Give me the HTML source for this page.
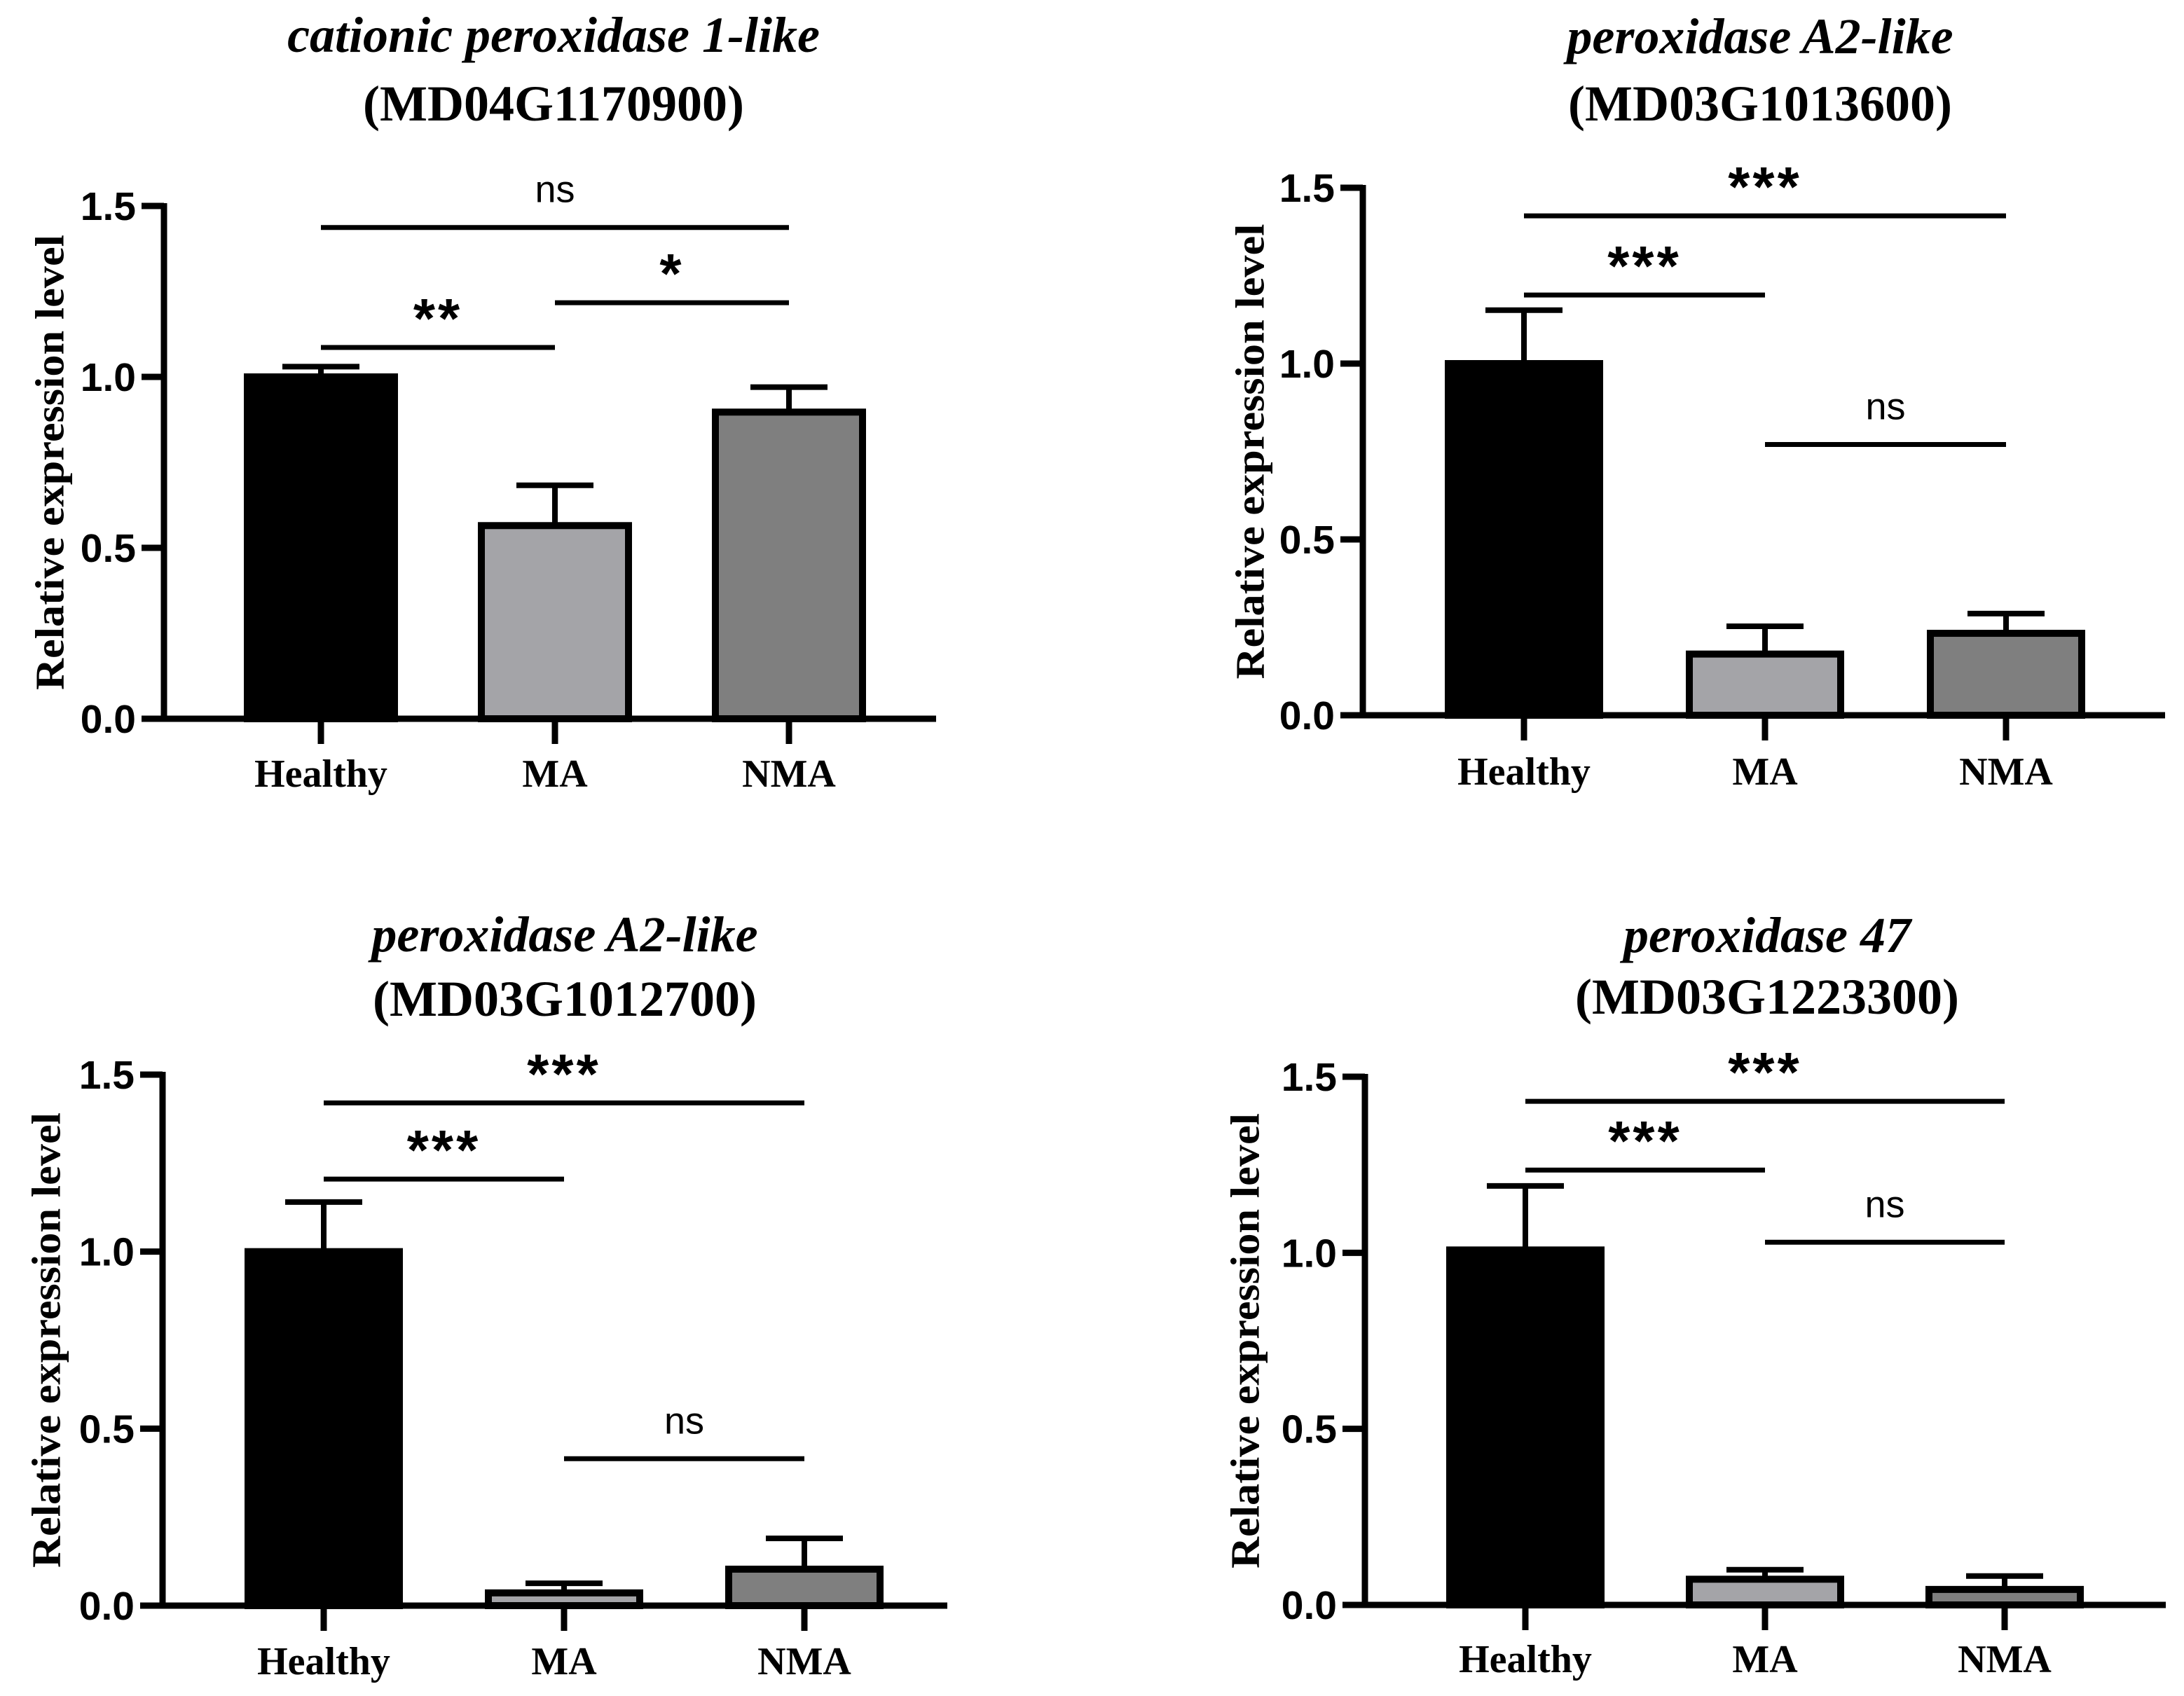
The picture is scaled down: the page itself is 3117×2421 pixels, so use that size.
<!DOCTYPE html>
<html><head><meta charset="utf-8"><style>
html,body{margin:0;padding:0;background:#fff;}
svg{display:block;}
</style></head><body>
<svg id="fig" xmlns="http://www.w3.org/2000/svg" width="3117" height="2421" viewBox="0 0 3117 2421"></svg>
<script>
const categories = ["Healthy", "MA", "NMA"];
const titlesItalic = ["cationic peroxidase 1-like", "peroxidase A2-like", "peroxidase A2-like", "peroxidase 47"];
const titlesId = ["(MD04G1170900)", "(MD03G1013600)", "(MD03G1012700)", "(MD03G1223300)"];
const meansP1 = [1.0, 0.565, 0.897];
const errsP1 = [0.03, 0.118, 0.073];
const meansP2 = [1.0, 0.174, 0.233];
const errsP2 = [0.152, 0.079, 0.056];
const meansP3 = [1.0, 0.036, 0.103];
const errsP3 = [0.14, 0.027, 0.087];
const meansP4 = [1.008, 0.073, 0.044];
const errsP4 = [0.182, 0.027, 0.038];
const yTicks = [0.0, 0.5, 1.0, 1.5];
const yTickLabels = ["0.0", "0.5", "1.0", "1.5"];
const sigP1 = [["ns", 0, 2, 1.437], ["**", 0, 1, 1.086], ["*", 1, 2, 1.217]];
const sigP2 = [["***", 0, 2, 1.42], ["***", 0, 1, 1.195], ["ns", 1, 2, 0.77]];
const sigP3 = [["***", 0, 2, 1.42], ["***", 0, 1, 1.205], ["ns", 1, 2, 0.415]];
const sigP4 = [["***", 0, 2, 1.43], ["***", 0, 1, 1.235], ["ns", 1, 2, 1.03]];
const fills = ["#000000", "#a4a4a8", "#7f7f7f"];

const layouts = [
  {ax:234, y0:1026, y15:294, c0:458, step:334, bw:220, xend:1336, t1:74, t2:172, tc:790, ylx:71, xl:1123},
  {ax:1945, y0:1021, y15:268, c0:2175, step:344, bw:226, xend:3090, t1:76, t2:172, tc:2512, ylx:1784, xl:1120},
  {ax:232, y0:2292, y15:1534, c0:462, step:343, bw:226, xend:1352, t1:1358, t2:1450, tc:806, ylx:66, xl:2390},
  {ax:1948, y0:2291, y15:1537, c0:2177, step:342, bw:226, xend:3091, t1:1359, t2:1447, tc:2522, ylx:1777, xl:2387}
];
const meansAll = [meansP1, meansP2, meansP3, meansP4];
const errsAll = [errsP1, errsP2, errsP3, errsP4];
const sigAll = [sigP1, sigP2, sigP3, sigP4];

const NS = "http://www.w3.org/2000/svg";
const svg = document.getElementById("fig");
function mk(tag, attrs, parent, text) {
  const e = document.createElementNS(NS, tag);
  for (const k in attrs) e.setAttribute(k, attrs[k]);
  if (text !== undefined) e.textContent = text;
  parent.appendChild(e);
  return e;
}

layouts.forEach((L, p) => {
  const g = mk("g", {}, svg);
  
  
  const yS = v => L.y0 - v * (L.y0 - L.y15) / 1.5;
  const xS = i => L.c0 + i * L.step;

  const t1 = mk("text", {x:L.tc, y:L.t1, "text-anchor":"middle", "font-family":"Liberation Serif, serif", "font-weight":"bold", "font-style":"italic", "font-size":72}, g, titlesItalic[p]);
  
  
  const t2 = mk("text", {x:L.tc, y:L.t2, "text-anchor":"middle", "font-family":"Liberation Serif, serif", "font-weight":"bold", "font-size":72}, g, titlesId[p]);
  
  

  const ymid = (L.y0 + L.y15) / 2;
  const yl = mk("text", {x:L.ylx, y:ymid, transform:`rotate(-90 ${L.ylx} ${ymid})`, "text-anchor":"middle", "dominant-baseline":"central", "font-family":"Liberation Serif, serif", "font-weight":"bold", "font-size":58, textLength:650, lengthAdjust:"spacingAndGlyphs"}, g, "Relative expression level");
  
  

  meansAll[p].forEach((v, i) => {
    const cx = xS(i), top = yS(v), e = yS(v + errsAll[p][i]);
    const eb = mk("path", {d:`M${cx} ${top} V${e} M${cx-55} ${e} H${cx+55}`, stroke:"#000", "stroke-width":8, fill:"none"}, g);
    
    
    const r = mk("rect", {x:cx - L.bw/2 + 5, y:top, width:L.bw - 10, height:Math.max(L.y0 - top, 0), fill:fills[i], stroke:"#000", "stroke-width":10}, g);
    
    
  });

  const ya = mk("path", {d:`M${L.ax} ${L.y15-4} V${L.y0+4}`, stroke:"#000", "stroke-width":9, fill:"none"}, g);
  
  
  const xa = mk("path", {d:`M${L.ax-4} ${L.y0} H${L.xend}`, stroke:"#000", "stroke-width":9, fill:"none"}, g);
  
  
  yTicks.forEach((v, i) => {
    const y = yS(v);
    const tk = mk("path", {d:`M${L.ax-32} ${y} H${L.ax}`, stroke:"#000", "stroke-width":9}, g);
    
    
    const tl = mk("text", {x:L.ax-40, y:y+20, "text-anchor":"end", "font-family":"Liberation Sans, sans-serif", "font-weight":"bold", "font-size":57}, g, yTickLabels[i]);
    
    
  });
  categories.forEach((c, i) => {
    const x = xS(i);
    const tk = mk("path", {d:`M${x} ${L.y0} V${L.y0+36}`, stroke:"#000", "stroke-width":9}, g);
    
    
    const tl = mk("text", {x:x, y:L.xl, "text-anchor":"middle", "font-family":"Liberation Serif, serif", "font-weight":"bold", "font-size":56}, g, c);
    
    
  });

  sigAll[p].forEach(s => {
    const [lab, a, b, lvl] = s;
    const y = yS(lvl), x1 = xS(a), x2 = xS(b), xm = (x1 + x2) / 2;
    const ln = mk("path", {d:`M${x1} ${y} H${x2}`, stroke:"#000", "stroke-width":7}, g);
    
    
    let tx;
    if (lab === "ns") {
      tx = mk("text", {x:xm, y:y - 36, "text-anchor":"middle", "font-family":"Liberation Sans, sans-serif", "font-size":54}, g, lab);
    } else {
      tx = mk("text", {x:xm, y:y - 14, "text-anchor":"middle", "font-family":"Liberation Sans, sans-serif", "font-weight":"bold", "font-size":80, "letter-spacing":"4"}, g, lab);
    }
    
    
  });
});
</script>
</body></html>
